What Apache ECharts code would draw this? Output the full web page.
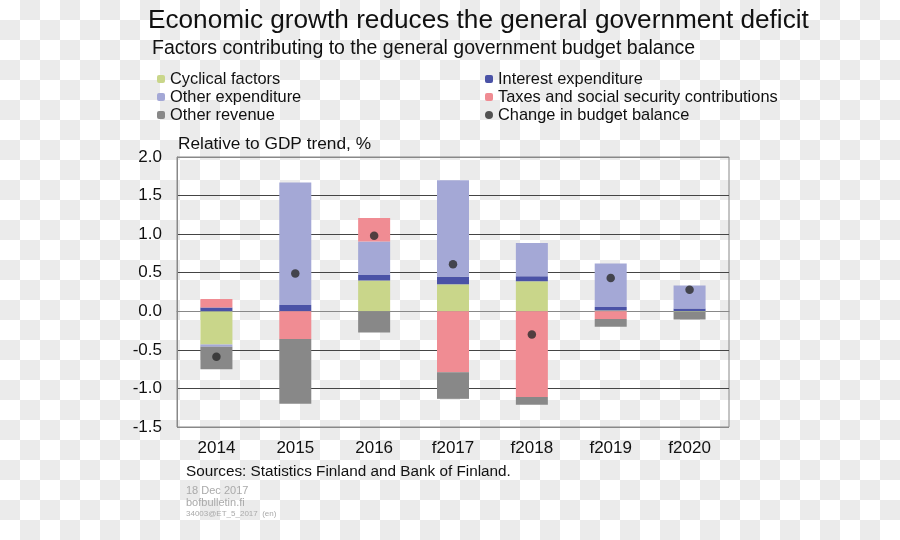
<!DOCTYPE html>
<html>
<head>
<meta charset="utf-8">
<script src="https://cdn.jsdelivr.net/npm/echarts@6/dist/echarts.min.js"></script>
<style>
html,body{margin:0;padding:0;}
#chart{width:900px;height:540px;background-color:#fff;
background-image:conic-gradient(#ebebeb 0 25%, #fff 0 50%, #ebebeb 0 75%, #fff 0);
background-size:40px 40px;background-position:0 0;}
</style>
</head>
<body>
<div id="chart"></div>
<script>
const categories = ['2014','2015','2016','f2017','f2018','f2019','f2020'];
const cyclical = [-0.43, 0.0, 0.40, 0.35, 0.39, 0.01, -0.01];
const interest = [0.05, 0.08, 0.07, 0.10, 0.065, 0.045, 0.035];
const otherExpenditure = [-0.03, 1.59, 0.435, 1.25, 0.43, 0.565, 0.30];
const taxes = [0.11, -0.36, 0.305, -0.79, -1.11, -0.10, 0];
const otherRevenue = [-0.29, -0.84, -0.275, -0.345, -0.10, -0.10, -0.095];
const changeInBalance = [-0.59, 0.49, 0.98, 0.61, -0.30, 0.43, 0.28];
const yTicks = {min: -1.5, max: 2.0, step: 0.5};

const FONT = "'Liberation Sans', Arial, sans-serif";
const chart = echarts.init(document.getElementById('chart'), null, {renderer: 'canvas'});

function barSeries(name, data, color) {
  return {name, type: 'bar', stack: 'total', data, barWidth: 32,
    itemStyle: {color}, emphasis: {disabled: true}};
}

const legendText = {fontSize: 16.4, color: '#111', fontFamily: FONT, lineHeight: 16};

const option = {
  backgroundColor: 'transparent',
  animation: false,
  textStyle: {fontFamily: FONT},
  grid: {left: 177, right: 171, top: 157, bottom: 113, show: true,
    borderColor: '#888', borderWidth: 1, containLabel: false},
  legend: [
    {data: ['Cyclical factors', 'Other expenditure', 'Other revenue'],
     orient: 'vertical', left: 152, top: 66, itemWidth: 8, itemHeight: 8, itemGap: 2,
     textStyle: legendText, selectedMode: false},
    {data: ['Interest expenditure', 'Taxes and social security contributions', {name: 'Change in budget balance', icon: 'circle'}],
     orient: 'vertical', left: 480, top: 66, itemWidth: 8, itemHeight: 8, itemGap: 2,
     textStyle: legendText, selectedMode: false}
  ],
  xAxis: {type: 'category', data: categories,
    axisLine: {show: true, lineStyle: {color: '#888', width: 1}},
    axisTick: {show: false},
    axisLabel: {fontSize: 17, color: '#111', margin: 13, fontFamily: FONT}},
  yAxis: {type: 'value', min: yTicks.min, max: yTicks.max, interval: yTicks.step,
    axisLine: {show: true, lineStyle: {color: '#888'}},
    axisTick: {show: false},
    axisLabel: {fontSize: 17, color: '#111', margin: 15, fontFamily: FONT,
      formatter: v => v.toFixed(1)},
    splitLine: {show: true, lineStyle: {color: ['#888','#444','#444','#444','#444','#444','#444','#888'], width: 1}}},
  series: [
    barSeries('Cyclical factors', cyclical, '#c9d68a'),
    barSeries('Interest expenditure', interest, '#4a52a6'),
    barSeries('Other expenditure', otherExpenditure, '#a4a8d6'),
    barSeries('Taxes and social security contributions', taxes, '#f08c93'),
    barSeries('Other revenue', otherRevenue, '#888888'),
    {name: 'Change in budget balance', type: 'scatter', data: changeInBalance,
     symbol: 'circle', symbolSize: 8.5, itemStyle: {color: '#2a2a2a'}, z: 5}
  ],
  graphic: [
    {type: 'text', left: 148, top: 8, style: {text: 'Economic growth reduces the general government deficit',
      font: '26.2px ' + FONT, fill: '#111'}},
    {type: 'text', left: 152, top: 39, style: {text: 'Factors contributing to the general government budget balance',
      font: '19.5px ' + FONT, fill: '#111'}},
    {type: 'text', left: 178, top: 136, style: {text: 'Relative to GDP trend, %',
      font: '17.3px ' + FONT, fill: '#111'}},
    {type: 'text', left: 186, top: 464, style: {text: 'Sources: Statistics Finland and Bank of Finland.',
      font: '15.3px ' + FONT, fill: '#111'}},
    {type: 'text', left: 186, top: 485, style: {text: '18 Dec 2017', font: '11px ' + FONT, fill: '#aaa'}},
    {type: 'text', left: 186, top: 497, style: {text: 'bofbulletin.fi', font: '11px ' + FONT, fill: '#aaa'}},
    {type: 'text', left: 186, top: 510, style: {text: '34003@ET_5_2017  (en)', font: '8px ' + FONT, fill: '#aaa'}}
  ]
};
chart.setOption(option);
</script>
</body>
</html>
